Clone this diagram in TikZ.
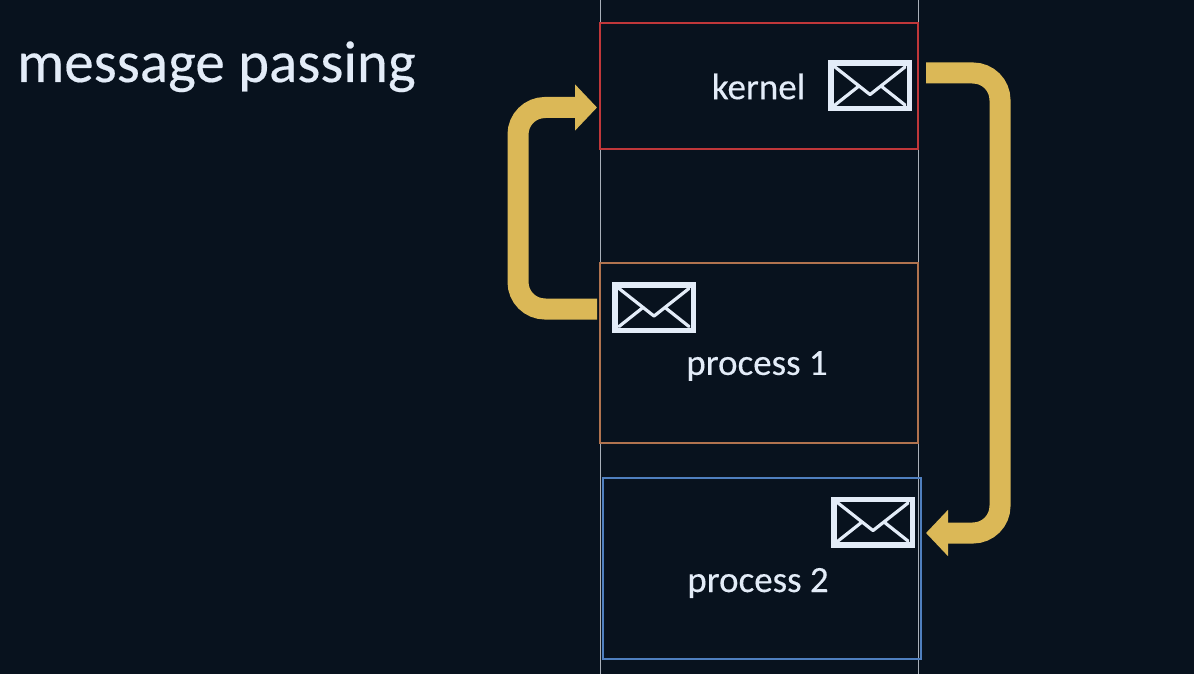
\documentclass[tikz,border=0pt]{standalone}
\usepackage{fontspec}
\setmainfont[FakeBold=0.3]{Carlito}
\usetikzlibrary{arrows.meta}
\definecolor{bgc}{HTML}{08121E}
\definecolor{paper}{HTML}{E3ECF8}
\definecolor{gold}{HTML}{DBB857}
\definecolor{redb}{HTML}{C0373A}
\definecolor{brownb}{HTML}{B0734F}
\definecolor{blueb}{HTML}{4F7FBF}
\definecolor{railc}{HTML}{A9B0BA}
\tikzset{
  region/.style={draw,line width=2pt,inner sep=0pt,minimum width=318pt},
  rail/.style={draw=railc,line width=1pt},
  envbox/.style={draw=paper,line width=5.5pt,inner sep=0pt,minimum width=78.5pt,minimum height=45.5pt},
  envfold/.style={draw=paper,line width=3.2pt,line cap=round,line join=round},
  label/.style={text=paper,font=\fontsize{37}{40}\selectfont,inner sep=0pt},
  flow/.style={draw=gold,line width=21pt,rounded corners=27pt,-{Triangle[length=22pt,width=45pt,fill=gold,color=gold]}}
}
\newcommand{\envfolds}[1]{%
  \draw[envfold] ([shift={(-35,-19)}]#1.center) -- ([shift={(-2,7)}]#1.center) -- ([shift={(0,8.5)}]#1.center) -- ([shift={(2,7)}]#1.center) -- ([shift={(35,-19)}]#1.center);
  \draw[envfold] ([shift={(-35,19)}]#1.center) -- ([shift={(-11,0)}]#1.center);
  \draw[envfold] ([shift={(35,19)}]#1.center) -- ([shift={(11,0)}]#1.center);
}
\begin{document}
\begin{tikzpicture}[x=1pt,y=-1pt]
\fill[bgc] (0,0) rectangle (1194,674);
\useasboundingbox (0,0) rectangle (1194,674);
\coordinate (railAtop) at (600.5,0);
\coordinate (railAbot) at (600.5,674);
\coordinate (railBtop) at (918,0);
\coordinate (railBbot) at (918,674);
\draw[rail] (railAtop) -- (railAbot);
\draw[rail] (railBtop) -- (railBbot);
\node[region,draw=redb,minimum height=126pt] (kernel) at (759,86) {};
\node[region,draw=brownb,minimum height=180pt] (proc1) at (758.9,353) {};
\node[region,draw=blueb,minimum height=181pt] (proc2) at (761.7,568.5) {};
\node[text=paper,font=\fontsize{59}{63}\selectfont,inner sep=0pt,anchor=base west] (title) at (17,82) {message passing};
\node[label] (kernellabel) at (758.5,86.5) {kernel};
\node[label] (p1label) at (757,366) {process 1};
\node[label] (p2label) at (758,583) {process 2};
\node[envbox] (envK) at (870,86) {};
\node[envbox] (envA) at (654,307.5) {};
\node[envbox] (envB) at (873,522) {};
\envfolds{envK}
\envfolds{envA}
\envfolds{envB}
\coordinate (kout) at (926,73);
\coordinate (kbend) at (1000,73);
\coordinate (bbend) at (1000,533);
\coordinate (bin) at (926,533);
\coordinate (aout) at (597,309);
\coordinate (abend) at (518,309);
\coordinate (tbend) at (518,107.5);
\coordinate (kin) at (597,107.5);
\draw[flow] (kout) -- (kbend) -- (bbend) -- (bin);
\draw[flow] (aout) -- (abend) -- (tbend) -- (kin);
\end{tikzpicture}
\end{document}
